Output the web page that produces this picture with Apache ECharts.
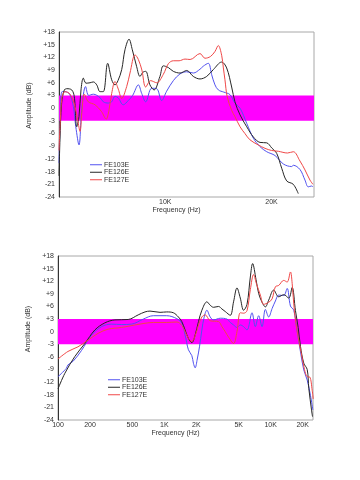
<!DOCTYPE html>
<html><head><meta charset="utf-8">
<script src="https://cdn.jsdelivr.net/npm/echarts@6/dist/echarts.min.js"></script>
<style>html,body{margin:0;padding:0;background:#fff}#c{width:360px;height:480px}</style>
</head><body><div id="c"></div>
<script>
// Tick labels as printed on the reference
const yTickLabels = ['+18','+15','+12','+9','+6','+3','0','-3','-6','-9','-12','-18','-21','-24'];
const topXTicks = [10000, 20000];
const topXLabels = ['10K', '20K'];
const bottomXTicks = [100, 200, 500, 1000, 2000, 5000, 10000, 20000];
const bottomXLabels = ['100', '200', '500', '1K', '2K', '5K', '10K', '20K'];
const seriesNames = ['FE103E', 'FE126E', 'FE127E'];

// Top chart (linear frequency, Hz) : [Hz, dB]
const topFE103E = [[0,-13],[100,-4],[280,3.9],[560,3.9],[1000,3.3],[1350,0.4],[1580,-4.4],[1880,-8.7],[2150,0],[2500,5.1],[2800,3.0],[3230,3.3],[3860,2.5],[4170,1.5],[4640,1.2],[4960,1.5],[5270,2.8],[5550,2.5],[6050,0.8],[6520,1.8],[6930,3.0],[7470,5.5],[7780,3.5],[8160,1.5],[8720,4.7],[9200,4.6],[9660,1.8],[10130,4.0],[10760,6.5],[11390,8.1],[12020,8.6],[12640,8.3],[13270,9.2],[13570,9.9],[14050,10.6],[14370,7.9],[14680,5.5],[15000,4.3],[15500,3.8],[16090,3.2],[16560,1.2],[17040,0.0],[17670,-3.6],[18290,-7.1],[18920,-9.1],[19550,-10.3],[20330,-11.2],[21120,-13.2],[21900,-13.8],[22050,-13.5],[22680,-14.5],[23150,-17.0],[23460,-18.6],[23770,-18.4],[23900,-18.6]];
const topFE126E = [[0,-16],[90,-7.5],[250,1.2],[500,4.3],[720,4.6],[1200,4.3],[1440,2.7],[1670,-4.4],[1880,-2],[2070,4.3],[2290,7.1],[2540,5.9],[2920,6.0],[3230,6.2],[3550,5.5],[3860,3.9],[4170,3.9],[4580,10.6],[4960,6.7],[5270,5.5],[5550,6.5],[5900,9.1],[6210,13.8],[6590,16.3],[6900,13.8],[7310,9.8],[7620,7.5],[7900,8.5],[8160,8.7],[8560,5.5],[8950,4.3],[9500,7.5],[9820,10.0],[10290,9.6],[10760,8.7],[11390,8.3],[12020,8.9],[12640,7.5],[13270,6.9],[13900,7.5],[14520,9.1],[15310,10.9],[15780,9.5],[16250,5.0],[16560,1.5],[17040,-1.6],[17670,-4.4],[18290,-6.8],[18920,-8.1],[19550,-8.2],[20020,-9.4],[20490,-10.7],[20960,-14.2],[21430,-17.2],[22050,-18.0],[22520,-20.2]];
const topFE127E = [[0,-10],[120,-3],[280,2.5],[560,3.9],[1040,3.3],[1500,0.4],[1760,-2.8],[1980,-5.5],[2150,-1],[2380,3.3],[2760,1.5],[3390,0.8],[4000,-0.8],[4440,-2.6],[4700,-0.5],[4960,3.5],[5270,6.3],[5580,4.5],[5900,2.3],[6370,5.1],[6680,8.3],[7160,12.6],[7470,11.5],[7800,9.0],[8160,5.0],[8630,6.5],[9200,6.0],[9820,8.0],[10290,10.5],[10760,11.2],[11300,11.2],[11860,11.6],[12340,11.5],[13270,12.9],[13740,11.8],[14250,12.2],[14680,13.4],[14990,14.8],[15310,12.5],[15470,9.5],[15620,6.7],[15830,2.7],[16250,-0.5],[16560,-2.0],[17040,-4.4],[17500,-6.0],[17980,-7.5],[18760,-8.7],[19390,-9.5],[20000,-10.0],[20650,-10.2],[21500,-10.6],[22050,-10.3],[22680,-12.5],[23150,-14.6],[23620,-17.0],[23900,-18.0]];

// Bottom chart (log frequency, Hz) : [Hz, dB]
const botFE103E = [[100,-10.7],[120,-8.7],[124,-7.9],[139,-7.0],[166,-4.5],[207,-0.8],[257,1.2],[319,1.8],[397,1.7],[493,1.8],[634,3.0],[788,3.8],[1053,3.8],[1309,3.1],[1460,2.0],[1568,-0.8],[1684,-4.3],[1814,-5.7],[1877,-7.5],[1948,-8.6],[2040,-6.5],[2140,-3.6],[2254,0.4],[2369,3.5],[2512,5.1],[2699,3.5],[2900,2.8],[3354,3.2],[3879,3.0],[4167,2.2],[4476,1.6],[4820,1.0],[5178,1.6],[5563,1.2],[5990,0.4],[6675,4.5],[7172,1.2],[7706,3.8],[8297,1.2],[8913,5.3],[9575,3.5],[10310,5.5],[11075,7.3],[11898,8.7],[13265,8.6],[14281,10.3],[15343,6.1],[16480,5.1],[17748,0.0],[19066,-4.8],[20482,-9.1],[22053,-11.5],[23690,-15.2],[24902,-18.6]];
const botFE126E = [[100,-13.6],[116,-9.9],[144,-5.9],[179,-2.8],[222,0.4],[276,2.1],[343,2.8],[457,2.9],[568,4.0],[658,4.7],[733,4.9],[911,4.6],[1053,4.7],[1216,4.5],[1356,3.5],[1460,2.4],[1568,0.4],[1684,-1.6],[1814,-2.6],[1948,-0.8],[2094,2.4],[2254,5.1],[2512,7.1],[2699,6.3],[2900,5.8],[3232,6.0],[3480,5.4],[3738,4.8],[4167,3.9],[4476,7.1],[4820,10.4],[5178,8.0],[5563,5.1],[5990,6.5],[6435,13],[6764,16.2],[7283,12.4],[7706,9.1],[8297,7.0],[8913,5.9],[9575,7.5],[10673,9.9],[11898,8.3],[13265,8.8],[14786,8.0],[15920,10.5],[17100,5.0],[18137,1.0],[19066,-3.5],[20482,-7.5],[22053,-9.0],[22833,-13.5],[24210,-18.6],[24742,-20.2]];
const botFE127E = [[100,-6.5],[124,-4.7],[154,-3.6],[192,-2.0],[238,-0.4],[296,0.6],[396,1.0],[529,1.6],[658,2.0],[788,2.2],[1053,2.2],[1309,2.3],[1460,1.5],[1568,0.0],[1684,-1.6],[1814,-2.3],[1948,-1.0],[2094,1.6],[2254,3.5],[2421,4.0],[2699,2.6],[3232,2.4],[3480,1.2],[3738,0.0],[4016,-1.3],[4476,-2.8],[4820,0.0],[5178,4.5],[5563,4.4],[5990,5.0],[6435,10.0],[6911,13.6],[7330,11.5],[7996,8.7],[8590,6.5],[9575,7.0],[10310,7.8],[11075,10.7],[11898,11.0],[13265,12.2],[14281,11.8],[15343,14.2],[15920,11.5],[16733,4.7],[17980,-0.8],[19358,-5.0],[20796,-9.0],[22053,-10.7],[23333,-10.8],[24582,-14.0],[25120,-16]];

const bandRange = [3, -3];
const colors = ['#5252f0', '#262626', '#f04848'];

const chart = echarts.init(document.getElementById('c'), null, {renderer: 'canvas'});
const font = 'Liberation Sans';
const txt = {fontSize: 7, color: '#333', fontFamily: font};

function yAxisDef(idx) {
  return {
    type: 'value', gridIndex: idx, min: -21, max: 18, interval: 3,
    name: 'Amplitude (dB)', nameLocation: 'middle', nameGap: 16,
    nameTextStyle: Object.assign({}, txt, {padding: [0, 0, 0, 18]}),
    axisLine: {show: true, lineStyle: {color: '#333', width: 1}},
    axisTick: {show: false},
    splitLine: {show: false},
    axisLabel: Object.assign({}, txt, {margin: 4, formatter: v => yTickLabels[Math.round((18 - v) / 3)]})
  };
}

function lineSeries(name, data, ci, axisIdx, withBand) {
  const s = {
    type: 'line', name: name, data: data, xAxisIndex: axisIdx, yAxisIndex: axisIdx,
    symbol: 'none', showSymbol: false, smooth: 0.35,
    lineStyle: {width: 1, color: colors[ci]}, itemStyle: {color: colors[ci]},
    z: 3, animation: false
  };
  if (withBand) {
    s.markArea = {silent: true, z: 1, itemStyle: {color: '#ff00ff', opacity: 1},
      data: [[{yAxis: bandRange[0]}, {yAxis: bandRange[1]}]]};
  }
  return s;
}

function legendDef(left, top) {
  return {orient: 'vertical', left: left, top: top, padding: 0, itemGap: 0,
    itemWidth: 12, itemHeight: 1, icon: 'rect',
    data: seriesNames, textStyle: Object.assign({}, txt, {lineHeight: 7.5, padding: [0, 0, 0, -3]}),
    selectedMode: false};
}

const option = {
  backgroundColor: '#ffffff',
  animation: false,
  grid: [
    {left: 59, top: 32, right: 46, height: 165, show: true, borderColor: '#a8a8a8', borderWidth: 1, backgroundColor: 'transparent'},
    {left: 58, top: 256, right: 47, height: 164, show: true, borderColor: '#a8a8a8', borderWidth: 1, backgroundColor: 'transparent'}
  ],
  xAxis: [
    {type: 'value', gridIndex: 0, min: 0, max: 24000, interval: 10000,
     name: 'Frequency (Hz)', nameLocation: 'middle', nameGap: 10,
     nameTextStyle: Object.assign({}, txt, {padding: [0, 20, 0, 0]}),
     axisLine: {show: false}, axisTick: {show: false}, splitLine: {show: false},
     axisLabel: Object.assign({}, txt, {margin: 2, showMinLabel: false,
       formatter: v => { const i = topXTicks.indexOf(v); return i >= 0 ? topXLabels[i] : ''; }})},
    {type: 'log', gridIndex: 1, min: 100, max: 25000, logBase: 10,
     name: 'Frequency (Hz)', nameLocation: 'middle', nameGap: 10,
     nameTextStyle: Object.assign({}, txt, {padding: [0, 20, 0, 0]}),
     axisLine: {show: false}, axisTick: {show: false}, splitLine: {show: false}, minorTick: {show: false},
     axisLabel: Object.assign({}, txt, {margin: 2, customValues: bottomXTicks,
       formatter: v => { const i = bottomXTicks.findIndex(t => Math.abs(t - v) / t < 0.01); return i >= 0 ? bottomXLabels[i] : ''; }})}
  ],
  yAxis: [yAxisDef(0), yAxisDef(1)],
  legend: [legendDef(90, 161), legendDef(108, 376)],
  series: [
    lineSeries('FE103E', topFE103E, 0, 0, true),
    lineSeries('FE126E', topFE126E, 1, 0, false),
    lineSeries('FE127E', topFE127E, 2, 0, false),
    lineSeries('FE103E', botFE103E, 0, 1, true),
    lineSeries('FE126E', botFE126E, 1, 1, false),
    lineSeries('FE127E', botFE127E, 2, 1, false)
  ]
};
chart.setOption(option);
</script>
</body></html>
